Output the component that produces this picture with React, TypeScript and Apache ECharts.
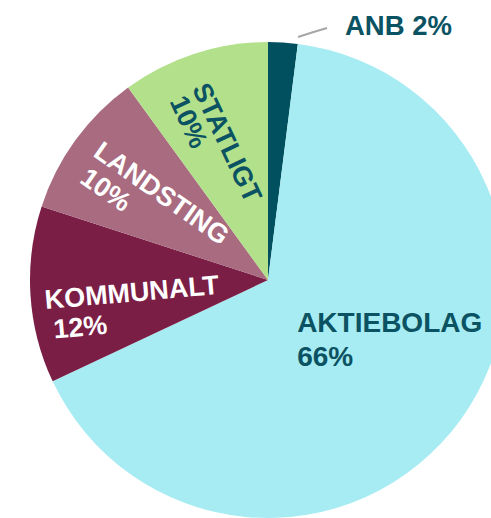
import React, { useEffect, useRef } from 'react';
import * as echarts from 'echarts';

// Data
const categories = ['ANB', 'AKTIEBOLAG', 'KOMMUNALT', 'LANDSTING', 'STATLIGT'];
const shares = [2, 66, 12, 10, 10];

// Styles
const sliceColors = ['#01505f', '#a7ecf2', '#7b1e45', '#a86b80', '#b3e08b'];
const labelColors = ['#0b5262', '#0b5262', '#ffffff', '#ffffff', '#0b5262'];
const labelRotate = [0, 0, 5, -35, -65];
const labelFontSize = [27.5, 28, 27, 27, 27];
const labelLineHeight = [30, 34, 30, 29, 26];
const percentIndent = [0, 0, 6, 4, 2];
// desired on-screen shift of each label block from the slice's default inside anchor
const labelShift = [[0, 0], [23, -12.7], [-13, 19.8], [-16, -3], [-15, -15.8]];

function toLocal(sx: number, sy: number, rotDeg: number) {
  const t = (-rotDeg * Math.PI) / 180;
  return [sx * Math.cos(t) + sy * Math.sin(t), -sx * Math.sin(t) + sy * Math.cos(t)];
}

export default function App() {
  const ref = useRef<HTMLDivElement>(null);
  useEffect(() => {
    const chart = echarts.init(ref.current!, null, { renderer: 'svg' });
    const font = "'Liberation Sans', Arial, sans-serif";
    chart.setOption({
      animation: false,
      backgroundColor: '#ffffff',
      series: [
        {
          type: 'pie',
          center: [268, 280],
          radius: 238,
          startAngle: 90,
          clockwise: true,
          avoidLabelOverlap: false,
          silent: true,
          itemStyle: { borderWidth: 0 },
          data: categories.map((name, i) => {
            const tok = {
              align: 'left',
              color: labelColors[i],
              fontFamily: font,
              fontWeight: 'bold',
              fontSize: labelFontSize[i],
              lineHeight: labelLineHeight[i],
            };
            return {
              name,
              value: shares[i],
              itemStyle: { color: sliceColors[i] },
              label:
                i === 0
                  ? {
                      show: true,
                      position: 'outside',
                      formatter: '{b} {c}%',
                      color: labelColors[i],
                      fontFamily: font,
                      fontWeight: 'bold',
                      fontSize: labelFontSize[i],
                    }
                  : {
                      show: true,
                      position: 'inside',
                      rotate: labelRotate[i],
                      formatter: '{n|{b}}\n{p|{c}%}',
                      rich: {
                        n: tok,
                        p: { ...tok, padding: [0, 0, 0, percentIndent[i]] },
                      },
                    },
              labelLine: {
                show: i === 0,
                length: 10,
                length2: 0,
                lineStyle: { color: '#a6a6a6', width: 2 },
              },
            };
          }),
          labelLayout: (p: any) => {
            const i = p.dataIndex;
            if (i === 0) {
              return {
                x: 345,
                y: 25,
                align: 'left',
                verticalAlign: 'middle',
                labelLinePoints: [
                  [298, 37],
                  [312, 32.5],
                  [327, 28],
                ],
              };
            }
            const [dx, dy] = toLocal(labelShift[i][0], labelShift[i][1], labelRotate[i]);
            return { dx, dy };
          },
        },
      ],
    });
    return () => chart.dispose();
  }, []);
  return (
    <div
      ref={ref}
      style={{ position: 'fixed', left: 0, top: 0, width: 491, height: 518 }}
    />
  );
}
